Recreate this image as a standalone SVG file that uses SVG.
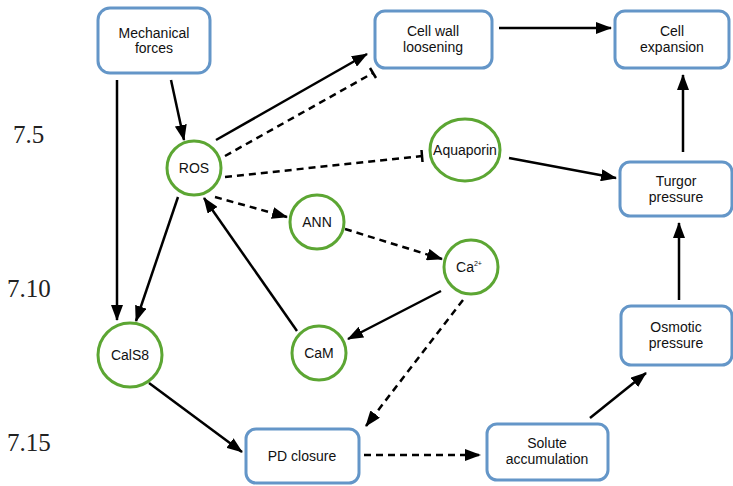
<svg xmlns="http://www.w3.org/2000/svg" width="733" height="486" viewBox="0 0 733 486">
<style>
.box{fill:#fff;stroke:#6496c8;stroke-width:3}
.circ{fill:#fff;stroke:#5ca633;stroke-width:3}
.t{font-family:"Liberation Sans",Arial,sans-serif;font-size:14px;fill:#111;text-anchor:middle}
.num{font-family:"Liberation Serif","Times New Roman",serif;font-size:25px;fill:#222}
.c{stroke:#000;stroke-width:2.5;fill:none}
.d{stroke-dasharray:7,5}
.a{marker-end:url(#arr)}
</style>
<defs>
<marker id="arr" viewBox="0 0 16 12" refX="15" refY="6" markerWidth="16" markerHeight="12" markerUnits="userSpaceOnUse" orient="auto">
<path d="M0,0 L16,6 L0,12 z" fill="#000"/>
</marker>
</defs>
<rect width="733" height="486" fill="#fff"/>
<g id="labels">
<text class="num" x="13" y="143">7.5</text>
<text class="num" x="7" y="297">7.10</text>
<text class="num" x="7" y="451">7.15</text>
</g>
<g id="connectors">
<line class="c a" x1="117" y1="80" x2="117" y2="320"/>
<line class="c a" x1="171" y1="80" x2="184" y2="140"/>
<line class="c a" x1="216" y1="140" x2="367" y2="54"/>
<line class="c d" x1="225" y1="156" x2="373" y2="73"/>
<line class="c" x1="370" y1="68" x2="376" y2="78"/>
<line class="c d" x1="225" y1="177" x2="422" y2="156"/>
<line class="c" x1="421.5" y1="150" x2="422.5" y2="162"/>
<line class="c d a" x1="215" y1="197" x2="287" y2="217"/>
<line class="c d a" x1="345" y1="229" x2="442" y2="259"/>
<line class="c a" x1="441" y1="291" x2="348" y2="339"/>
<line class="c d a" x1="463" y1="300" x2="366" y2="426"/>
<line class="c a" x1="297" y1="331" x2="204" y2="198"/>
<line class="c a" x1="178" y1="197" x2="136" y2="321"/>
<line class="c a" x1="149" y1="383" x2="242" y2="452"/>
<line class="c d a" x1="364" y1="455" x2="480" y2="455"/>
<line class="c a" x1="590" y1="418" x2="646" y2="373"/>
<line class="c a" x1="679" y1="300" x2="679" y2="223"/>
<line class="c a" x1="683" y1="152" x2="683" y2="75"/>
<line class="c a" x1="499" y1="28" x2="611" y2="28"/>
<line class="c a" x1="509" y1="158" x2="616" y2="178"/>
</g>
<g id="mechanical-forces">
<rect class="box" x="98" y="8" width="112" height="65" rx="12"/>
<text class="t" x="154" y="38">Mechanical</text>
<text class="t" x="154" y="53">forces</text>
</g>
<g id="cell-wall-loosening">
<rect class="box" x="375" y="11" width="117" height="57" rx="10"/>
<text class="t" x="433" y="36">Cell wall</text>
<text class="t" x="433" y="52">loosening</text>
</g>
<g id="cell-expansion">
<rect class="box" x="615" y="11" width="114" height="57" rx="10"/>
<text class="t" x="672" y="36">Cell</text>
<text class="t" x="672" y="52">expansion</text>
</g>
<g id="ros">
<circle class="circ" cx="194" cy="168" r="27"/>
<text class="t" x="194" y="173">ROS</text>
</g>
<g id="aquaporin">
<ellipse class="circ" cx="465" cy="150" rx="35" ry="31"/>
<text class="t" x="465" y="155">Aquaporin</text>
</g>
<g id="turgor-pressure">
<rect class="box" x="620" y="162" width="112" height="54" rx="10"/>
<text class="t" x="676" y="186">Turgor</text>
<text class="t" x="676" y="202">pressure</text>
</g>
<g id="ann">
<circle class="circ" cx="317" cy="222" r="27"/>
<text class="t" x="317" y="227">ANN</text>
</g>
<g id="ca">
<circle class="circ" cx="471" cy="267" r="27"/>
<text class="t" x="469" y="272">Ca<tspan font-size="7" dy="-6">2+</tspan></text>
</g>
<g id="cals8">
<circle class="circ" cx="130" cy="355" r="32"/>
<text class="t" x="130" y="360" font-size="13">CalS8</text>
</g>
<g id="cam">
<circle class="circ" cx="319" cy="353" r="27"/>
<text class="t" x="319" y="358">CaM</text>
</g>
<g id="osmotic-pressure">
<rect class="box" x="621" y="306" width="111" height="59" rx="10"/>
<text class="t" x="676" y="332">Osmotic</text>
<text class="t" x="676" y="348">pressure</text>
</g>
<g id="pd-closure">
<rect class="box" x="246" y="429" width="113" height="54" rx="10"/>
<text class="t" x="302" y="461">PD closure</text>
</g>
<g id="solute-accumulation">
<rect class="box" x="487" y="424" width="121" height="56" rx="10"/>
<text class="t" x="547" y="448">Solute</text>
<text class="t" x="547" y="464">accumulation</text>
</g>
</svg>
